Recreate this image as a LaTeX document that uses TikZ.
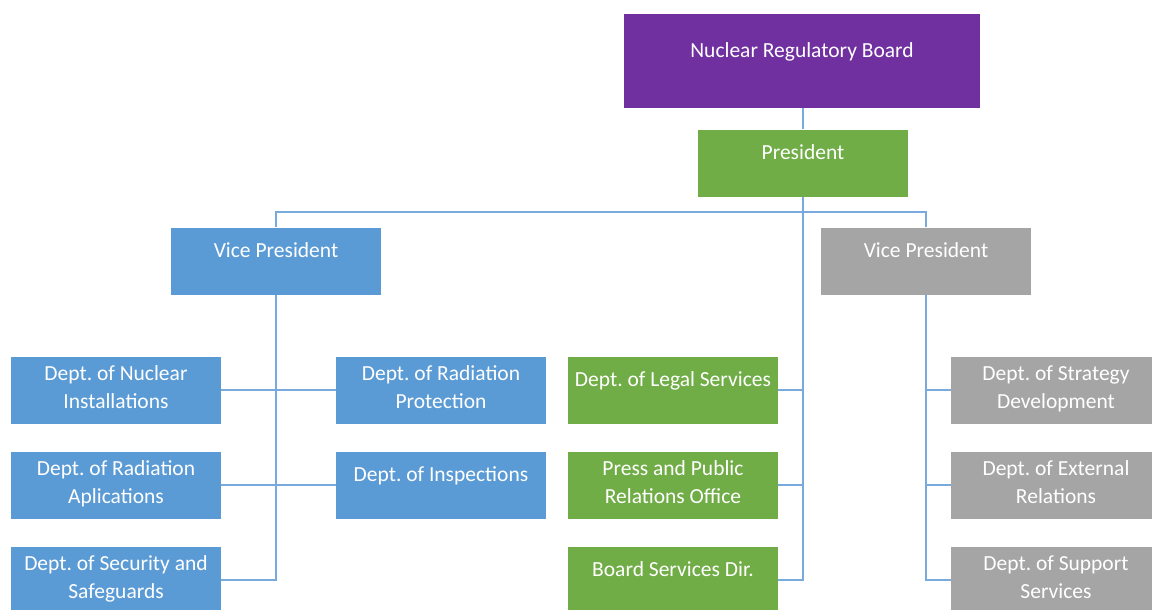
\documentclass[tikz,border=0pt]{standalone}
\usepackage{fontspec}
\setmainfont{Carlito}
\frenchspacing
\definecolor{boardc}{HTML}{7030A0}
\definecolor{greenc}{HTML}{70AD47}
\definecolor{bluec}{HTML}{5B9BD5}
\definecolor{grayc}{HTML}{A5A5A5}
\definecolor{linkc}{RGB}{120,170,222}
\begin{document}
\begin{tikzpicture}[x=1pt,y=-1pt,
    box/.style={rectangle, minimum width=210pt, minimum height=67pt, inner sep=0pt,
      text=white, align=center, font=\fontsize{21.5}{28}\selectfont},
    link/.style={draw=linkc, line width=1.6pt}]
  \useasboundingbox (0,0) rectangle (1152,610);
  \clip (0,0) rectangle (1152,610);

  % Top
  \node[box, fill=boardc, minimum width=356pt, minimum height=93pt] (board) at (802,61) {Nuclear Regulatory Board\\[-6pt]~};
  \node[box, fill=greenc] (pres) at (803,163) {President\\[-6pt]~};

  % Vice presidents
  \node[box, fill=bluec] (vpl) at (276,261) {Vice President\\[-6pt]~};
  \node[box, fill=grayc] (vpr) at (926,261) {Vice President\\[-6pt]~};

  % Left departments
  \node[box, fill=bluec] (nuc) at (116,390) {Dept. of Nuclear\\Installations\\[-22pt]~};
  \node[box, fill=bluec] (rapp) at (116,485) {Dept. of Radiation\\Aplications\\[-22pt]~};
  \node[box, fill=bluec] (sec) at (116,580) {Dept. of Security and\\Safeguards\\[-22pt]~};
  \node[box, fill=bluec] (rprot) at (441,390) {Dept. of Radiation\\Protection\\[-22pt]~};
  \node[box, fill=bluec] (insp) at (441,485) {Dept. of Inspections\\[-7pt]~};

  % President's offices
  \node[box, fill=greenc] (legal) at (673,390) {Dept. of Legal Services\\[-7pt]~};
  \node[box, fill=greenc] (press) at (673,485) {Press and Public\\Relations Office\\[-22pt]~};
  \node[box, fill=greenc] (bserv) at (673,580) {Board Services Dir.\\[-7pt]~};

  % Right departments
  \node[box, fill=grayc] (strat) at (1056,390) {Dept. of Strategy\\Development\\[-22pt]~};
  \node[box, fill=grayc] (ext) at (1056,485) {Dept. of External\\Relations\\[-22pt]~};
  \node[box, fill=grayc] (supp) at (1056,580) {Dept. of Support\\Services\\[-22pt]~};

  % Connectors
  \draw[link] (board.south -| pres.north) -- (pres.north);
  \draw[link] (pres.south) -- ++(0,15) coordinate (bus);
  \draw[link] (bus) -| (vpl.north);
  \draw[link] (bus) -| (vpr.north);
  \draw[link] (pres.south) |- (bserv.east);
  \draw[link] (legal.east) -- (legal.east -| pres.south);
  \draw[link] (press.east) -- (press.east -| pres.south);

  \draw[link] (vpl.south) |- (sec.east);
  \draw[link] (nuc.east) -- (rprot.west);
  \draw[link] (rapp.east) -- (insp.west);

  \draw[link] (vpr.south) |- (supp.west);
  \draw[link] (strat.west) -- (strat.west -| vpr.south);
  \draw[link] (ext.west) -- (ext.west -| vpr.south);
\end{tikzpicture}
\end{document}
